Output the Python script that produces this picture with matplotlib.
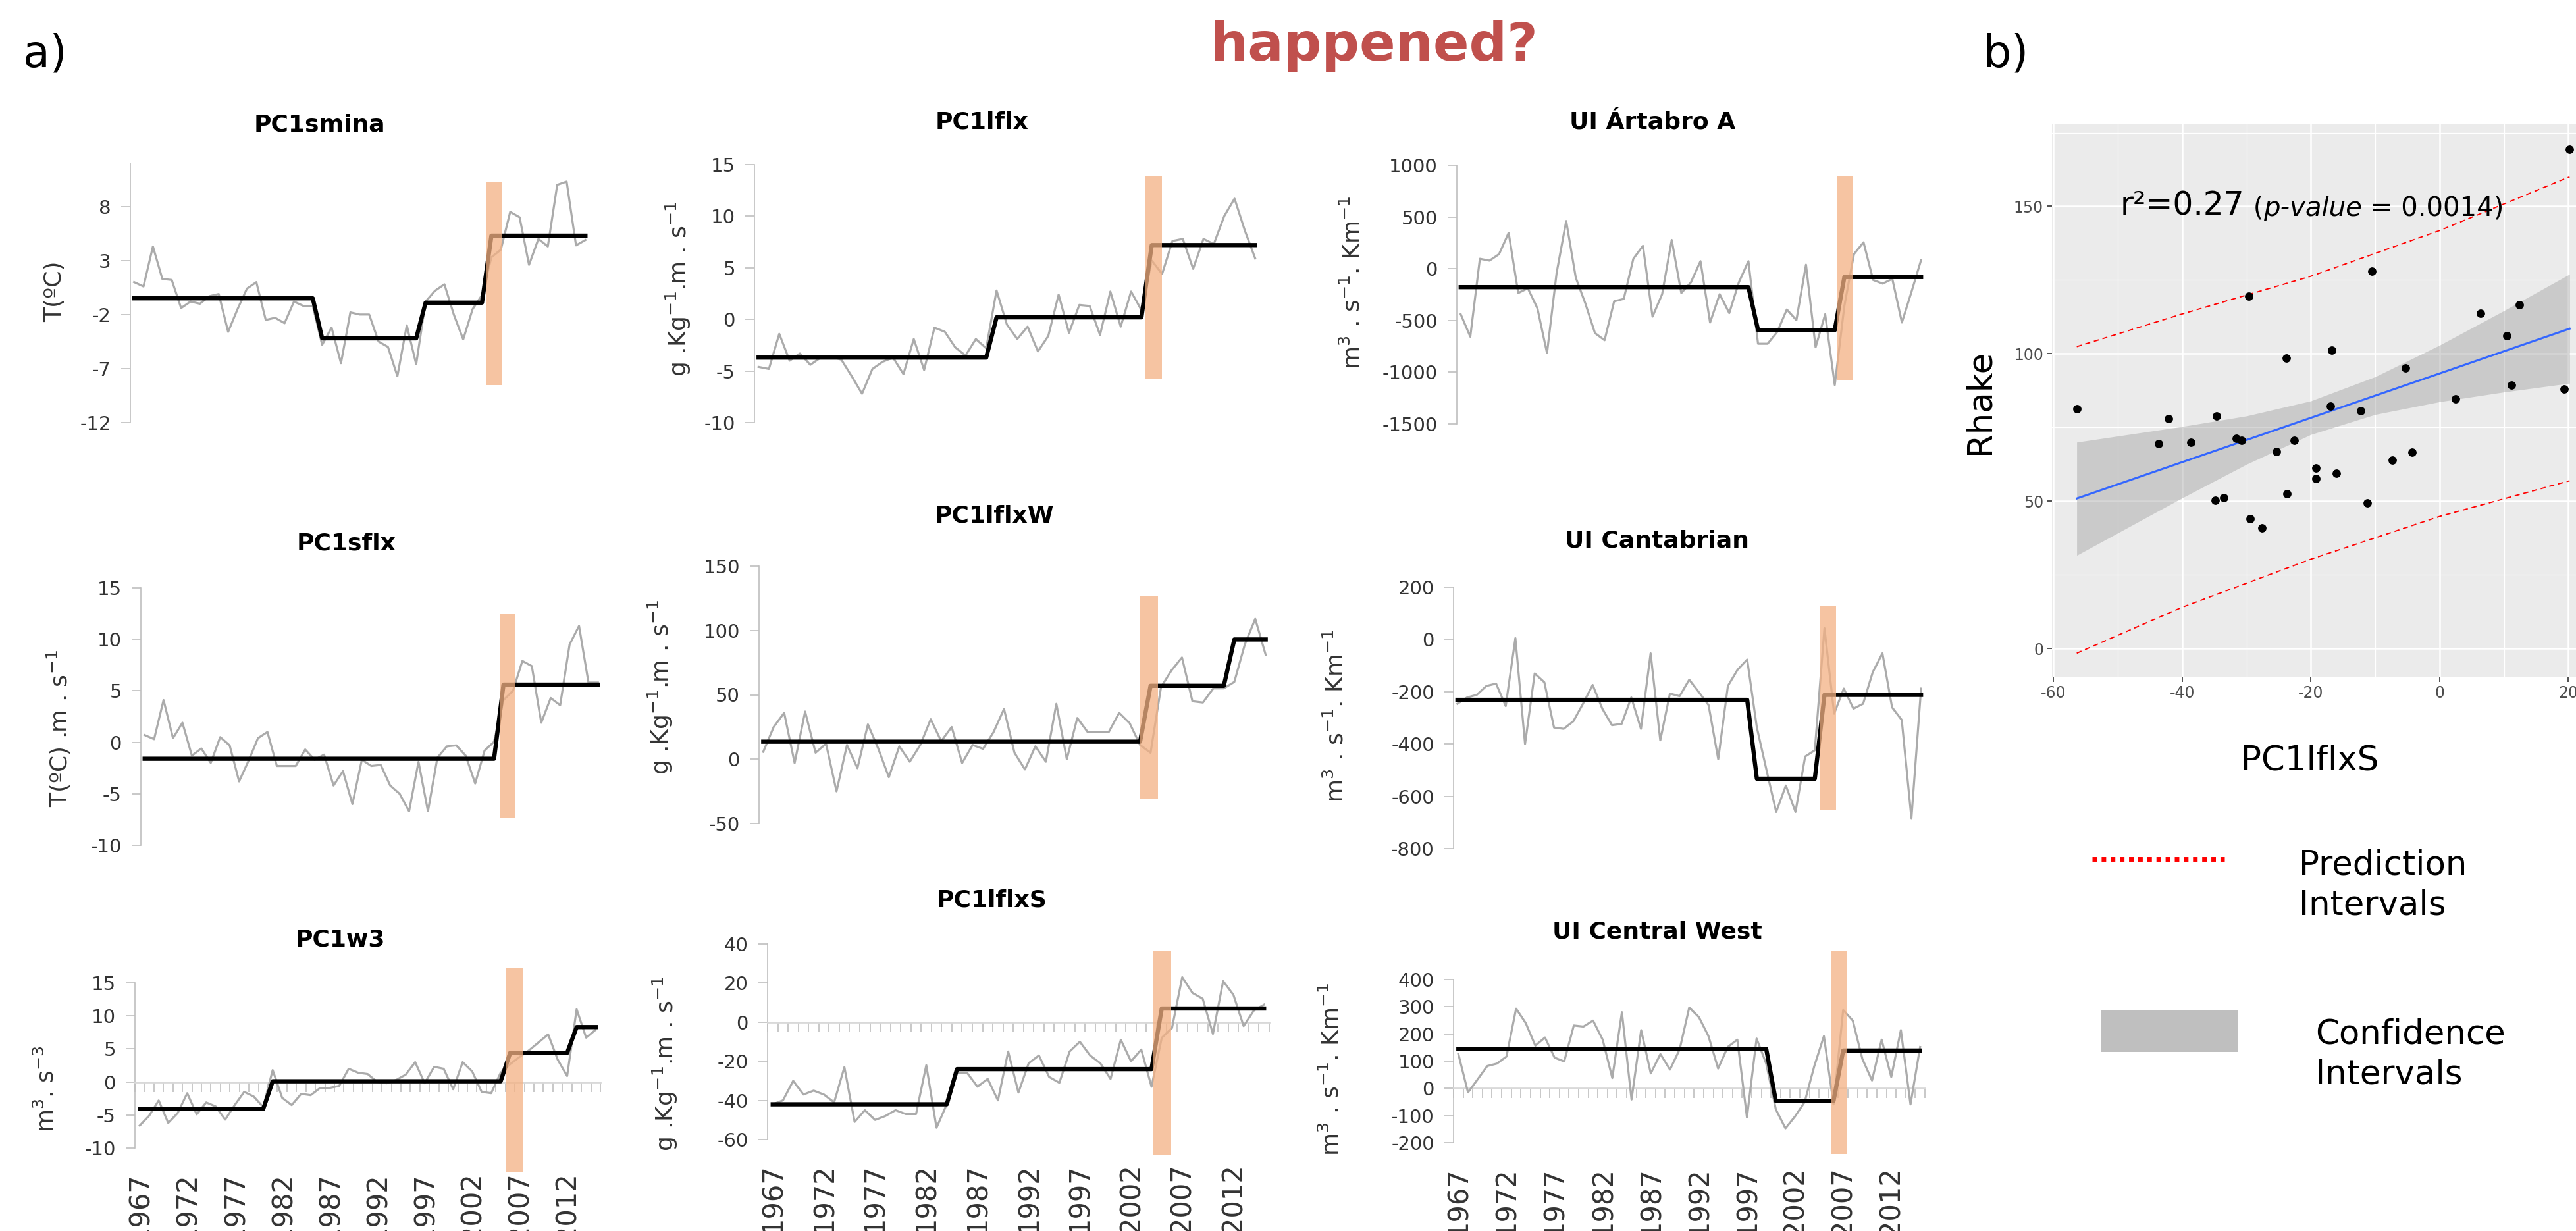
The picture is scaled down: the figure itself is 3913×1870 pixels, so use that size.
import numpy as np
import matplotlib.pyplot as plt
from matplotlib.lines import Line2D
from matplotlib.patches import Rectangle
from matplotlib import transforms

plt.rcParams['font.family'] = ['DejaVu Sans']
plt.rcParams['axes.unicode_minus'] = False
plt.rcParams['mathtext.default'] = 'regular'

W, H = 3913, 1870
years = np.arange(1967, 2016)
year_labels = [1967, 1972, 1977, 1982, 1987, 1992, 1997, 2002, 2007, 2012]

# ---- a) yearly series (grey) and regime means (black) ----
smina = [1.0, 0.6, 4.3, 1.3, 1.2, -1.4, -0.8, -1.0, -0.3, -0.1, -3.6, -1.5, 0.4, 1.0, -2.5, -2.3, -2.8,
         -0.8, -1.2, -1.2, -4.8, -3.2, -6.5, -1.8, -2.0, -2.0, -4.5, -5.0, -7.7, -3.0, -6.6, -0.8, 0.2,
         0.8, -2.0, -4.3, -1.5, -0.2, 3.3, 4.0, 7.5, 7.0, 2.6, 5.0, 4.3, 10.0, 10.3, 4.4, 4.9]
smina_regimes = [(1967, 1986, -0.5), (1987, 1997, -4.2), (1998, 2004, -0.9), (2005, 2015, 5.3)]
smina_band = (2004.4, 2006.1, -8.5, 10.3)

lflx = [-4.6, -4.8, -1.4, -4.0, -3.3, -4.4, -3.7, -3.6, -3.9, -5.5, -7.2, -4.8, -4.1, -3.7, -5.3, -1.9,
        -4.9, -0.8, -1.2, -2.7, -3.5, -1.9, -2.8, 2.8, -0.5, -1.9, -0.7, -3.1, -1.6, 2.4, -1.3, 1.4, 1.3,
        -1.5, 2.7, -0.7, 2.7, 0.9, 5.7, 4.4, 7.6, 7.8, 4.9, 7.8, 7.3, 10.0, 11.7, 8.6, 5.9]
lflx_regimes = [(1967, 1989, -3.7), (1990, 2004, 0.2), (2005, 2015, 7.2)]
lflx_band = (2004.4, 2006.0, -5.8, 13.9)

artabro = [-440, -657, 96, 78, 141, 347, -235, -189, -383, -816, -41, 461, -87, -337, -622, -691, -315,
           -292, 96, 221, -463, -246, 278, -235, -132, 73, -520, -246, -429, -132, 73, -725, -725, -611,
           -394, -497, 39, -759, -440, -1124, -360, 141, 255, -109, -144, -98, -520, -223, 84]
artabro_regimes = [(1967, 1997, -178), (1998, 2006, -593), (2007, 2015, -80)]
artabro_band = (2006.3, 2007.9, -1074, 898)

sflx = [0.7, 0.3, 4.1, 0.4, 1.9, -1.3, -0.6, -2.0, 0.5, -0.3, -3.8, -1.8, 0.4, 1.0, -2.3, -2.3, -2.3,
        -0.7, -1.7, -1.2, -4.2, -2.8, -6.0, -1.7, -2.3, -2.2, -4.2, -5.0, -6.7, -1.9, -6.7, -1.5, -0.4,
        -0.3, -1.3, -4.0, -0.8, 0.05, 4.1, 5.0, 7.9, 7.4, 1.9, 4.3, 3.6, 9.5, 11.3, 5.8, 5.8]
sflx_regimes = [(1967, 2004, -1.6), (2005, 2015, 5.6)]
sflx_band = (2004.6, 2006.3, -7.3, 12.5)

lflxw = [5.7, 25, 36, -3, 37, 5, 12, -25, 11, -7, 27, 8, -14, 10, -2, 11, 31, 14, 25, -3, 11, 8, 21, 39,
         5, -8, 10, -2, 43, 0, 32, 21, 21, 21, 36, 28, 11, 5, 56, 69, 79, 45, 44, 55, 55, 60, 89, 109, 81]
lflxw_regimes = [(1967, 2003, 13.6), (2004, 2011, 57), (2012, 2015, 93)]
lflxw_band = (2003.0, 2004.7, -31, 127)

cantab = [-246, -222, -212, -178, -169, -255, 5, -400, -130, -164, -337, -342, -313, -246, -174, -265,
          -328, -323, -222, -342, -53, -386, -207, -217, -154, -202, -251, -458, -178, -116, -77, -337,
          -500, -660, -559, -660, -448, -424, 43, -284, -188, -265, -246, -125, -53, -260, -308, -684, -188]
cantab_regimes = [(1967, 1997, -231), (1998, 2004, -533), (2005, 2015, -212)]
cantab_band = (2004.5, 2006.2, -651, 127)

w3 = [-6.6, -5.1, -2.8, -6.2, -4.7, -1.7, -4.9, -3.1, -3.7, -5.7, -3.5, -1.5, -2.2, -3.8, 1.8, -2.4, -3.5,
      -1.8, -2.0, -0.9, -0.9, -0.6, 2.0, 1.4, 1.2, 0.0, -0.2, 0.3, 1.1, 3.0, -0.2, 2.3, 2.0, -1.1, 3.0, 1.6,
      -1.5, -1.7, 1.4, 2.7, 3.8, 4.8, 6.0, 7.2, 3.4, 0.9, 11.0, 6.7, 7.9]
w3_regimes = [(1967, 1980, -4.1), (1981, 2005, 0.1), (2006, 2012, 4.4), (2013, 2015, 8.3)]
w3_band = (2005.5, 2007.4, -13.6, 17.2)

lflxs = [-42, -40, -30, -37, -35, -37, -41, -23, -51, -45, -50, -48, -45, -47, -47, -22, -54, -42, -26,
         -26, -33, -29, -40, -15, -36, -21, -17, -28, -31, -15, -10, -17, -21, -29, -9, -20, -14, -33, -8,
         -3, 23, 15, 12, -6, 21, 14, -2, 6, 9]
lflxs_regimes = [(1967, 1984, -42), (1985, 2004, -24), (2005, 2015, 7)]
lflxs_band = (2004.2, 2005.9, -68, 36.7)

cwest = [126, -15, 33, 82, 91, 117, 293, 240, 157, 187, 113, 99, 231, 227, 249, 179, 38, 280, -41, 214,
         55, 126, 69, 143, 297, 262, 192, 73, 152, 179, -107, 183, 91, -77, -147, -103, -50, 82, 192, -59,
         288, 249, 108, 29, 179, 42, 214, -59, 152]
cwest_regimes = [(1967, 1999, 145), (2000, 2006, -46), (2007, 2015, 139)]
cwest_band = (2005.8, 2007.4, -242, 506)

# ---- b) Rhake vs PC1lflxS ----
rhake_x = [-56.4, -42.1, -43.7, -38.7, -34.7, -34.9, -33.5, -31.6, -30.8, -29.7, -29.5, -27.6, -25.4,
           -23.8, -23.7, -22.6, -19.2, -19.2, -17.0, -16.8, -16.0, -12.3, -11.2, -10.5, -7.3, -4.3, -5.3,
           2.5, 6.4, 10.5, 11.2, 12.4, 19.4, 20.2]
rhake_y = [81.4, 77.9, 69.5, 69.9, 78.9, 50.3, 51.2, 71.3, 70.6, 119.6, 44.0, 40.9, 66.9, 98.5, 52.4,
           70.5, 61.2, 57.7, 82.2, 101.2, 59.5, 80.6, 49.3, 128.0, 63.8, 66.5, 95.1, 84.6, 113.6, 106.1,
           89.4, 116.7, 88.1, 169.4]
fit_x = [-56.4, 20.2]
fit_y = [50.9, 108.5]
ci_x = [-56.4, -40, -30, -20, -10, 0, 10, 20.2]
ci_lo = [31.6, 51.1, 62.5, 72.6, 79.4, 83.7, 87.0, 90.0]
ci_hi = [70.0, 75.3, 78.9, 84.0, 92.2, 102.9, 114.6, 127.0]
pi_x = [-56.4, -40, -20, 0, 20.2]
pi_lo = [-1.6, 14.0, 30.3, 44.8, 56.9]
pi_hi = [102.4, 113.5, 126.3, 141.8, 160.0]

panels = [
    ('PC1smina', 'T(ºC)', smina, smina_regimes, smina_band, (-12, 12), [8, 3, -2, -7, -12], False),
    ('PC1lflx', 'g .Kg$^{-1}$.m . s$^{-1}$', lflx, lflx_regimes, lflx_band, (-10, 15), [15, 10, 5, 0, -5, -10], False),
    ('UI Ártabro A', 'm$^{3}$ . s$^{-1}$. Km$^{-1}$', artabro, artabro_regimes, artabro_band, (-1500, 1000),
     [1000, 500, 0, -500, -1000, -1500], False),
    ('PC1sflx', 'T(ºC) .m . s$^{-1}$', sflx, sflx_regimes, sflx_band, (-10, 15), [15, 10, 5, 0, -5, -10], False),
    ('PC1lflxW', 'g .Kg$^{-1}$.m . s$^{-1}$', lflxw, lflxw_regimes, lflxw_band, (-50, 150), [150, 100, 50, 0, -50], False),
    ('UI Cantabrian', 'm$^{3}$ . s$^{-1}$. Km$^{-1}$', cantab, cantab_regimes, cantab_band, (-800, 200),
     [200, 0, -200, -400, -600, -800], False),
    ('PC1w3', 'm$^{3}$. s$^{-3}$', w3, w3_regimes, w3_band, (-10, 15), [15, 10, 5, 0, -5, -10], True),
    ('PC1lflxS', 'g .Kg$^{-1}$.m . s$^{-1}$', lflxs, lflxs_regimes, lflxs_band, (-60, 40), [40, 20, 0, -20, -40, -60], True),
    ('UI Central West', 'm$^{3}$ . s$^{-1}$. Km$^{-1}$', cwest, cwest_regimes, cwest_band, (-200, 400),
     [400, 300, 200, 100, 0, -100, -200], True),
]

# layout in reference pixels: axes (left, top, width, height), title xy, ylabel xy, year label top
layout = [
    ((198, 248, 697, 394), (485, 189), (83, 443), None),
    ((1146, 250, 767, 392), (1491, 186), (1030, 439), None),
    ((2213, 251, 711, 393), (2510, 186), (2054, 429), None),
    ((214, 893, 700, 391), (526, 826), (89, 1106), None),
    ((1153, 860, 776, 391), (1510, 784), (1003, 1044), None),
    ((2208, 892, 716, 397), (2517, 822), (2029, 1087), None),
    ((205, 1493, 707, 251), (517, 1427), (70, 1654), 1780),
    ((1166, 1434, 762, 297), (1507, 1368), (1010, 1616), 1767),
    ((2208, 1488, 716, 248), (2517, 1416), (2022, 1624), 1772),
]

fig = plt.figure(figsize=(W / 100, H / 100), dpi=100)


def px_axes(left, top, width, height):
    return fig.add_axes([left / W, 1 - (top + height) / H, width / W, height / H])


for (title, ylab, vals, regimes, band, ylim, yticks, zero_axis), (box, txy, lxy, ltop) in zip(panels, layout):
    ax = px_axes(*box)
    mean = np.zeros(len(years))
    for y0, y1, m in regimes:
        mean[(years >= y0) & (years <= y1)] = m
    ax.plot(years, vals, color='#ABABAB', lw=2.3, zorder=3)
    ax.plot(years, mean, color='black', lw=4.6, zorder=4)
    x0, x1, b0, b1 = band
    ax.add_patch(Rectangle((x0, b0), x1 - x0, b1 - b0, color='#F4B183', alpha=0.75, lw=0,
                           zorder=5, clip_on=False))
    ax.set_xlim(1966.6, 2015.4)
    ax.set_ylim(ylim)
    ax.set_yticks(yticks)
    ax.set_yticklabels([str(t) for t in yticks])
    ax.tick_params(axis='y', length=10, width=1.2, color='#BFBFBF', labelsize=21,
                   labelcolor='#333333', pad=11)
    ax.spines['top'].set_visible(False)
    ax.spines['right'].set_visible(False)
    ax.spines['left'].set_color('#BFBFBF')
    ax.spines['left'].set_linewidth(1.2)
    if zero_axis:
        ax.spines['bottom'].set_position(('data', 0))
        ax.spines['bottom'].set_color('#D9D9D9')
        ax.spines['bottom'].set_linewidth(2)
        ax.set_xticks(np.append(years - 0.5, years[-1] + 0.5))
        ax.tick_params(axis='x', length=11, width=1.2, color='#BFBFBF', labelbottom=False)
        tr = transforms.blended_transform_factory(ax.transData, fig.transFigure)
        for yr in year_labels:
            ax.text(yr, 1 - ltop / H, str(yr), transform=tr, rotation=90, ha='center', va='top',
                    fontsize=30, color='#333333', clip_on=False)
    else:
        ax.spines['bottom'].set_visible(False)
        ax.set_xticks([])
    ax.patch.set_alpha(0)
    fig.text(txy[0] / W, 1 - txy[1] / H, title, ha='center', va='center', fontsize=26, fontweight='bold')
    fig.text(lxy[0] / W, 1 - lxy[1] / H, ylab, ha='center', va='center', rotation=90, fontsize=26,
             color='#333333')

# ---- panel b ----
axb = px_axes(3116.5, 189, W - 3116.5, 1029 - 189)
axb.set_facecolor('#EBEBEB')
axb.fill_between(ci_x, ci_lo, ci_hi, color='#999999', alpha=0.4, lw=0, zorder=2)
axb.plot(fit_x, fit_y, color='#3366FF', lw=2.2, zorder=3)
axb.plot(pi_x, pi_hi, color='red', lw=1.4, ls=(0, (4, 3)), zorder=3)
axb.plot(pi_x, pi_lo, color='red', lw=1.4, ls=(0, (4, 3)), zorder=3)
axb.scatter(rhake_x, rhake_y, s=85, color='black', lw=0, zorder=4)
axb.set_xlim(-60.3, 21.2)
axb.set_ylim(-9.8, 177.8)
axb.set_xticks([-60, -40, -20, 0, 20])
axb.set_yticks([0, 50, 100, 150])
axb.set_xticks([-50, -30, -10, 10], minor=True)
axb.set_yticks([25, 75, 125, 175], minor=True)
axb.grid(which='major', color='white', lw=1.8)
axb.grid(which='minor', color='white', lw=0.9)
axb.set_axisbelow(True)
for s in axb.spines.values():
    s.set_visible(False)
axb.tick_params(which='major', length=5, width=1.2, color='#333333', labelsize=17,
                labelcolor='#4D4D4D', pad=4)
axb.tick_params(which='minor', length=0)

t1 = axb.text(-49.6, 147.2, 'r²=0.27', fontsize=35, va='baseline')
t2 = axb.annotate(' (', xy=(1, 0), xycoords=t1, fontsize=29, va='bottom')
t3 = axb.annotate('p-value', xy=(1, 0), xycoords=t2, fontsize=29, va='bottom', style='italic')
axb.annotate(' = 0.0014)', xy=(1, 0), xycoords=t3, fontsize=29, va='bottom')

fig.text(3007 / W, 1 - 610 / H, 'Rhake', rotation=90, ha='center', va='center', fontsize=37)
fig.text(3509 / W, 1 - 1155 / H, 'PC1lflxS', ha='center', va='center', fontsize=37)

# legend of panel b
fig.add_artist(Line2D([3178 / W, 3379 / W], [1 - 1305 / H, 1 - 1305 / H], transform=fig.transFigure,
                      color='red', lw=5, ls=(0, (1, 1)), dash_capstyle='butt'))
fig.add_artist(Rectangle((3191 / W, 1 - 1598 / H), 209 / W, 63 / H, transform=fig.transFigure,
                         color='#BFBFBF', lw=0))
fig.text(3492 / W, 1 - 1345 / H, 'Prediction\nIntervals', ha='left', va='center', fontsize=37,
         linespacing=1.3)
fig.text(3517 / W, 1 - 1602 / H, 'Confidence\nIntervals', ha='left', va='center', fontsize=37,
         linespacing=1.3)

# headings
fig.text(68 / W, 1 - 82 / H, 'a)', ha='center', va='center', fontsize=48)
fig.text(3047 / W, 1 - 83 / H, 'b)', ha='center', va='center', fontsize=48)
fig.text(2087 / W, 1 - 70 / H, 'happened?', ha='center', va='center', fontsize=58, fontweight='bold',
         color='#C0504D')

fig.savefig('out.png', dpi=100)
